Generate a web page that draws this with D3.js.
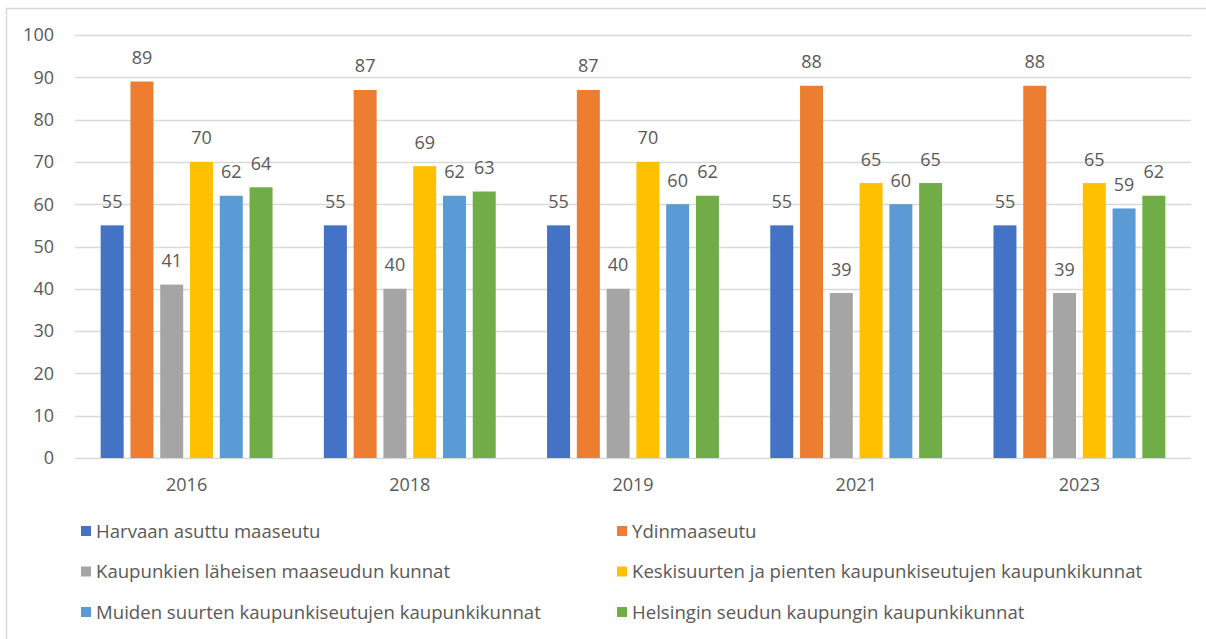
<!DOCTYPE html>
<html>
<head>
<meta charset="utf-8">
<script src="https://cdn.jsdelivr.net/npm/d3@7"></script>
<style>
  body { margin: 0; background: #fff; }
  text { font-family: "Open Sans", sans-serif; fill: #595959; }
</style>
</head>
<body>
<div class="chart"></div>
<script>
// Years on the x axis
let years = ["2016", "2018", "2019", "2021", "2023"];

// Series names, as in the legend
let series = [
  "Harvaan asuttu maaseutu",
  "Ydinmaaseutu",
  "Kaupunkien läheisen maaseudun kunnat",
  "Keskisuurten ja pienten kaupunkiseutujen kaupunkikunnat",
  "Muiden suurten kaupunkiseutujen kaupunkikunnat",
  "Helsingin seudun kaupungin kaupunkikunnat"
];

let colors = ["#4472C4", "#ED7D31", "#A5A5A5", "#FFC000", "#5B9BD5", "#70AD47"];

// One array per series, one value per year
let harvaan = [55, 55, 55, 55, 55];
let ydin = [89, 87, 87, 88, 88];
let laheinen = [41, 40, 40, 39, 39];
let keskisuuret = [70, 69, 70, 65, 65];
let muutSuuret = [62, 62, 60, 60, 59];
let helsinki = [64, 63, 62, 65, 62];

let values = [harvaan, ydin, laheinen, keskisuuret, muutSuuret, helsinki];

let yTicks = [0, 10, 20, 30, 40, 50, 60, 70, 80, 90, 100];

let width = 1206, height = 639;
let plot = { left: 75, right: 1191, top: 35, bottom: 458 };
let fontSize = "18px";
let legendFont = "18.6px";

let svg = d3.select(".chart").append("svg")
  .attr("width", width)
  .attr("height", height);

// outer frame of the chart area
svg.append("rect")
  .attr("x", 6.5).attr("y", 8.5)
  .attr("width", width + 10).attr("height", height + 10)
  .attr("fill", "none")
  .attr("stroke", "#d9d9d9")
  .attr("stroke-width", 1.5);

let y = d3.scaleLinear().domain([0, 100]).range([plot.bottom, plot.top]);

let x0 = d3.scaleBand()
  .domain(years)
  .range([plot.left, plot.right])
  .paddingInner(0.23)
  .paddingOuter(0.115);

let x1 = d3.scaleBand()
  .domain(d3.range(series.length))
  .range([0, x0.bandwidth()])
  .paddingInner(0.228);

// gridlines
svg.append("g").selectAll("line")
  .data(yTicks)
  .enter().append("line")
  .attr("x1", plot.left).attr("x2", plot.right)
  .attr("y1", d => Math.round(y(d)) + 0.5)
  .attr("y2", d => Math.round(y(d)) + 0.5)
  .attr("stroke", "#d9d9d9")
  .attr("stroke-width", 1.5);

// y tick labels
svg.append("g").selectAll("text")
  .data(yTicks)
  .enter().append("text")
  .attr("x", 54)
  .attr("y", d => y(d))
  .attr("dy", "0.35em")
  .attr("text-anchor", "end")
  .style("font-size", fontSize)
  .text(d => d);

// x labels
svg.append("g").selectAll("text")
  .data(years)
  .enter().append("text")
  .attr("x", d => x0(d) + x0.bandwidth() / 2)
  .attr("y", 491)
  .attr("text-anchor", "middle")
  .style("font-size", fontSize)
  .text(d => d);

// bars, grouped per year
let groups = svg.append("g").selectAll("g")
  .data(years)
  .enter().append("g")
  .attr("transform", d => "translate(" + x0(d) + ",0)");

let cells = groups.selectAll("g")
  .data((d, i) => values.map((s, k) => ({ k: k, v: s[i] })))
  .enter().append("g");

cells.append("rect")
  .attr("x", d => x1(d.k))
  .attr("width", x1.bandwidth())
  .attr("y", d => y(d.v))
  .attr("height", d => y(0) - y(d.v))
  .attr("fill", d => colors[d.k]);

cells.append("text")
  .attr("x", d => x1(d.k) + x1.bandwidth() / 2)
  .attr("y", d => y(d.v) - 17.5)
  .attr("text-anchor", "middle")
  .style("font-size", fontSize)
  .text(d => d.v);

// legend in two columns
let legend = svg.append("g").selectAll("g")
  .data(series)
  .enter().append("g")
  .attr("transform", (d, i) => "translate(" + (i % 2 === 0 ? 81 : 617) + "," + (531 + Math.floor(i / 2) * 40.5) + ")");

legend.append("rect")
  .attr("x", 0).attr("y", -5)
  .attr("width", 10).attr("height", 10)
  .attr("fill", (d, i) => colors[i]);

legend.append("text")
  .attr("x", 15)
  .attr("dy", "0.35em")
  .style("font-size", legendFont)
  .text(d => d);
</script>
</body>
</html>
